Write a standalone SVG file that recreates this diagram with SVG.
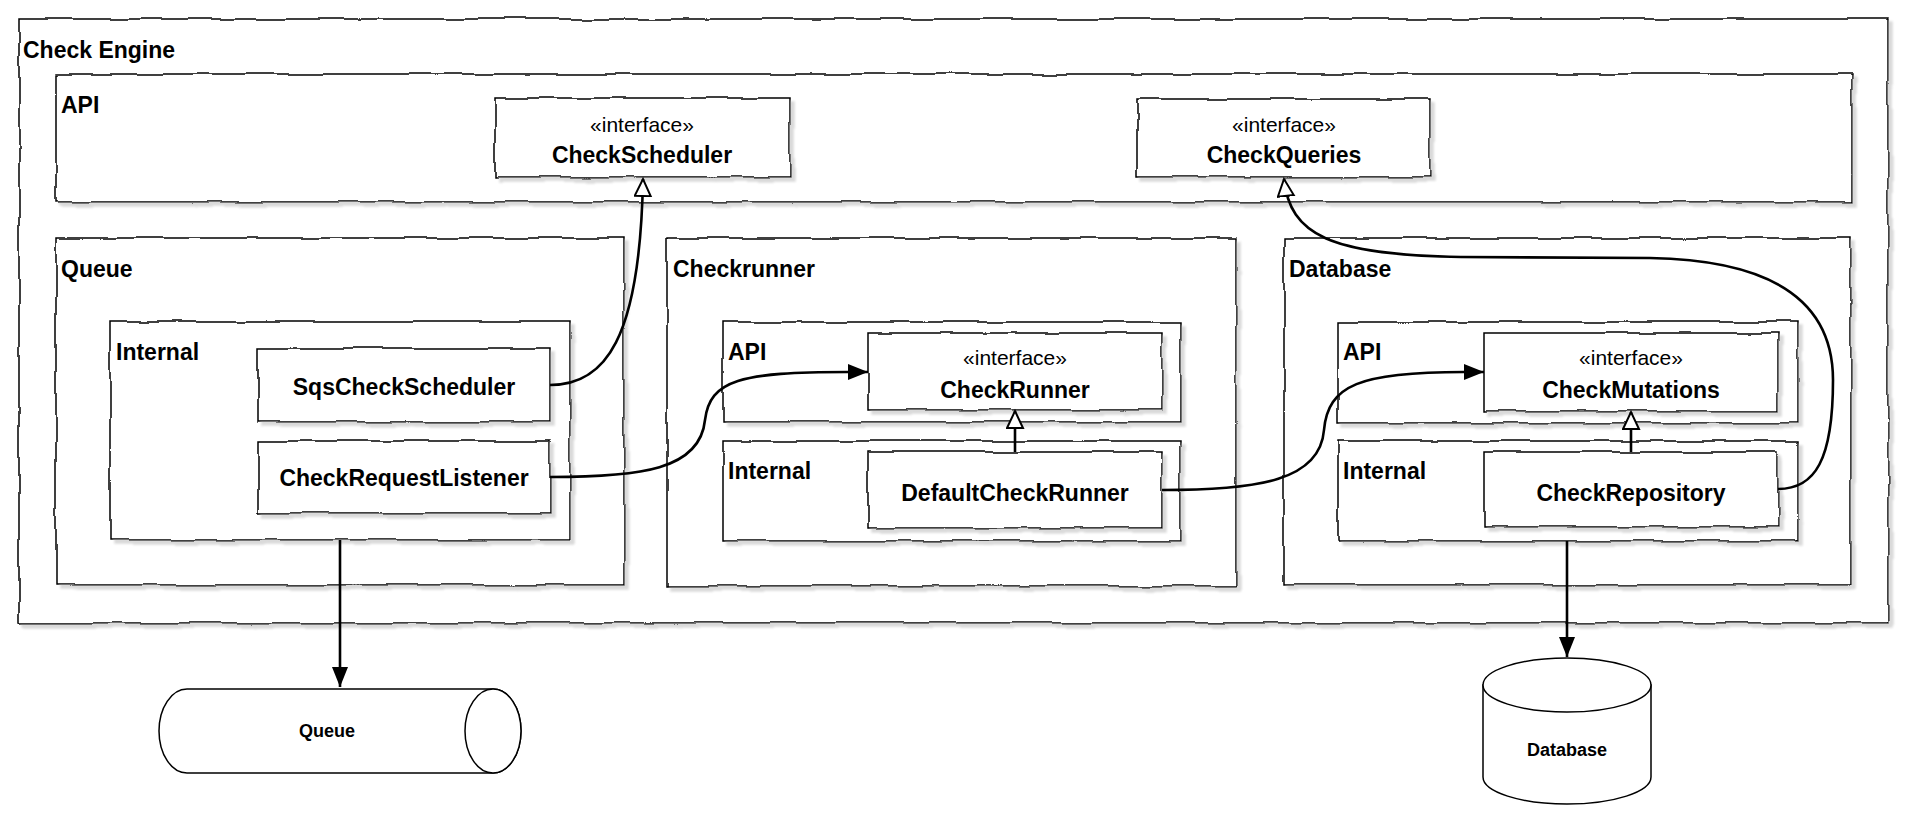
<svg xmlns="http://www.w3.org/2000/svg" width="1913" height="824" viewBox="0 0 1913 824">
<style>
  .box { fill: #ffffff; stroke: #000000; stroke-width: 1.5; }
  .rough { filter: url(#sketch); }
  .lbl { font-family: "Liberation Sans", Arial, sans-serif; font-weight: bold; font-size: 23px; fill: #000; }
  .name { font-family: "Liberation Sans", Arial, sans-serif; font-weight: bold; font-size: 23px; fill: #000; text-anchor: middle; }
  .stereo { font-family: "Liberation Sans", Arial, sans-serif; font-size: 21px; fill: #000; text-anchor: middle; }
  .cyl { fill: #ffffff; stroke: #000000; stroke-width: 1.5; }
  .cylname { font-family: "Liberation Sans", Arial, sans-serif; font-weight: bold; font-size: 18px; fill: #000; text-anchor: middle; }
  .edge { fill: none; stroke: #000; stroke-width: 2.6; }
  .solid { marker-end: url(#arrow); }
  .real { marker-end: url(#triangle); }
</style>
<defs>
  <filter id="sketch" filterUnits="userSpaceOnUse" x="0" y="0" width="1913" height="824">
    <feTurbulence type="fractalNoise" baseFrequency="0.03" numOctaves="1" seed="4" result="n"/>
    <feDisplacementMap in="SourceGraphic" in2="n" scale="6" xChannelSelector="R" yChannelSelector="G" result="d"/>
    <feColorMatrix in="d" type="matrix" values="0 0 0 0 0.7  0 0 0 0 0.7  0 0 0 0 0.7  0 0 0 1 0" result="g"/>
    <feOffset in="g" dx="4" dy="4" result="so"/>
    <feGaussianBlur in="so" stdDeviation="1" result="sb"/>
    <feMerge><feMergeNode in="sb"/><feMergeNode in="d"/></feMerge>
  </filter>
  <marker id="arrow" markerUnits="userSpaceOnUse" markerWidth="22" markerHeight="18" refX="20" refY="8" orient="auto">
    <path d="M0,0 L20,8 L0,16 Z" fill="#000"/>
  </marker>
  <marker id="triangle" markerUnits="userSpaceOnUse" markerWidth="22" markerHeight="20" refX="18" refY="9" orient="auto">
    <path d="M1,1 L18,9 L1,17 Z" fill="#fff" stroke="#000" stroke-width="2"/>
  </marker>
</defs>
<rect width="1913" height="824" fill="#ffffff"/>

<g id="check-engine">
  <rect class="box rough" x="19" y="19" width="1869" height="604"/>
  <text class="lbl" x="23" y="58">Check Engine</text>
</g>
<g id="api">
  <rect class="box rough" x="56" y="74" width="1796" height="128"/>
  <text class="lbl" x="61" y="113">API</text>
</g>
<g id="check-scheduler">
  <rect class="box rough" x="495" y="98" width="295" height="79"/>
  <text class="stereo" x="642" y="132">«interface»</text>
  <text class="name" x="642" y="163">CheckScheduler</text>
</g>
<g id="check-queries">
  <rect class="box rough" x="1137" y="99" width="293" height="78"/>
  <text class="stereo" x="1284" y="132">«interface»</text>
  <text class="name" x="1284" y="163">CheckQueries</text>
</g>

<g id="queue-pkg">
  <rect class="box rough" x="56" y="238" width="568" height="347"/>
  <text class="lbl" x="61" y="277">Queue</text>
</g>
<g id="queue-internal">
  <rect class="box rough" x="110" y="322" width="460" height="218"/>
  <text class="lbl" x="116" y="360">Internal</text>
</g>
<g id="sqs-check-scheduler">
  <rect class="box rough" x="258" y="348" width="292" height="74"/>
  <text class="name" x="404" y="395">SqsCheckScheduler</text>
</g>
<g id="check-request-listener">
  <rect class="box rough" x="258" y="441" width="292" height="72"/>
  <text class="name" x="404" y="486">CheckRequestListener</text>
</g>

<g id="checkrunner-pkg">
  <rect class="box rough" x="667" y="238" width="569" height="348"/>
  <text class="lbl" x="673" y="277">Checkrunner</text>
</g>
<g id="checkrunner-api">
  <rect class="box rough" x="723" y="322" width="458" height="100"/>
  <text class="lbl" x="728" y="360">API</text>
</g>
<g id="check-runner">
  <rect class="box rough" x="868" y="333" width="294" height="77"/>
  <text class="stereo" x="1015" y="365">«interface»</text>
  <text class="name" x="1015" y="398">CheckRunner</text>
</g>
<g id="checkrunner-internal">
  <rect class="box rough" x="723" y="441" width="458" height="100"/>
  <text class="lbl" x="728" y="479">Internal</text>
</g>
<g id="default-check-runner">
  <rect class="box rough" x="868" y="452" width="294" height="76"/>
  <text class="name" x="1015" y="501">DefaultCheckRunner</text>
</g>

<g id="database-pkg">
  <rect class="box rough" x="1284" y="238" width="567" height="347"/>
  <text class="lbl" x="1289" y="277">Database</text>
</g>
<g id="database-api">
  <rect class="box rough" x="1338" y="322" width="460" height="101"/>
  <text class="lbl" x="1343" y="360">API</text>
</g>
<g id="check-mutations">
  <rect class="box rough" x="1484" y="333" width="294" height="78"/>
  <text class="stereo" x="1631" y="365">«interface»</text>
  <text class="name" x="1631" y="398">CheckMutations</text>
</g>
<g id="database-internal">
  <rect class="box rough" x="1338" y="441" width="460" height="100"/>
  <text class="lbl" x="1343" y="479">Internal</text>
</g>
<g id="check-repository">
  <rect class="box rough" x="1484" y="452" width="294" height="75"/>
  <text class="name" x="1631" y="501">CheckRepository</text>
</g>

<g id="queue">
  <path class="cyl" d="M187,689 L493,689 A28,42 0 0 1 493,773 L187,773 A28,42 0 0 1 187,689 Z"/>
  <ellipse class="cyl" cx="493" cy="731" rx="28" ry="42"/>
  <text class="cylname" x="327" y="737">Queue</text>
</g>
<g id="database">
  <path class="cyl" d="M1483,685 L1483,777 A84,27 0 0 0 1651,777 L1651,685 Z"/>
  <ellipse class="cyl" cx="1567" cy="685" rx="84" ry="27"/>
  <text class="cylname" x="1567" y="756">Database</text>
</g>

<g id="connectors">
  <path class="edge real" d="M550,385 C605,385 640,340 643,179"/>
  <path class="edge real" d="M1778,489 C1815,489 1833,460 1833,380 C1833,300 1770,260 1650,258 L1461,257 C1330,255 1290,235 1284,179"/>
  <path class="edge solid" d="M550,477 C640,477 700,470 705,420 C710,380 740,372 848,372 L868,372"/>
  <path class="edge solid" d="M1162,490 C1260,490 1320,480 1324,430 C1328,385 1360,372 1464,372 L1484,372"/>
  <path class="edge real" d="M1015,452 L1015,411"/>
  <path class="edge real" d="M1631,452 L1631,412"/>
  <path class="edge solid" d="M340,540 L340,687"/>
  <path class="edge solid" d="M1567,541 L1567,657"/>
</g>
</svg>
